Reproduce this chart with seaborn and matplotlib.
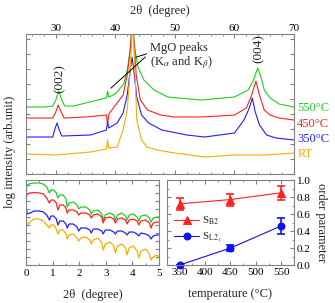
import pandas as pd
import matplotlib.pyplot as plt
import seaborn as sns
from matplotlib.ticker import MultipleLocator, FormatStrFormatter

sns.set_style("ticks")
plt.rcParams['font.family'] = ['Liberation Serif', 'DejaVu Serif']
plt.rcParams['mathtext.fontset'] = 'stix'
plt.rcParams['xtick.direction'] = 'in'
plt.rcParams['ytick.direction'] = 'in'
plt.rcParams['axes.edgecolor'] = '#808080'
plt.rcParams['xtick.color'] = '#808080'
plt.rcParams['ytick.color'] = '#808080'
plt.rcParams['xtick.labelcolor'] = 'black'
plt.rcParams['ytick.labelcolor'] = 'black'

# ---- XRD (high angle), log intensity in arb. units, curves already offset
tt_550 = [25, 28, 29.5, 30.0, 30.5, 31.0, 31.5, 33, 35, 37, 38.5, 38.7, 38.9, 40, 41.4, 42.0, 42.5,
          42.9, 43.3, 43.8, 44.8, 46.5, 48.8, 54.5, 60, 62.3, 63.2, 63.9, 64.5, 65.0, 66, 67.5, 70]
i_550 = [67, 67, 68, 74, 83, 74, 68, 68, 71, 74, 76, 83, 77, 80, 90, 104, 124,
         154, 124, 107, 94, 84, 77, 74, 77, 84, 94, 106, 96, 84, 76, 70, 67]

tt_450 = [25, 29.5, 30.0, 30.4, 30.9, 31.4, 35, 38.5, 38.7, 38.9, 40.3, 41.3, 42.0, 42.5, 42.85,
          43.3, 43.5, 44.2, 45.4, 47.6, 50, 54.5, 60, 62.0, 62.9, 63.6, 64.2, 65, 66, 67.5, 70]
i_450 = [56, 56, 62, 69, 62, 56, 57, 59, 49, 60, 71, 79, 99, 124, 154,
         119, 99, 74, 64, 59, 57, 57, 59, 66, 79, 93, 79, 64, 59, 56, 54]

tt_350 = [25, 29.5, 29.8, 30.2, 30.6, 31.0, 35.8, 38.5, 38.7, 38.9, 40.3, 41.3, 42.0, 42.5, 42.8,
          43.1, 43.6, 44.4, 45.6, 47.8, 52, 55, 60, 61.6, 62.5, 63.0, 63.5, 64.2, 65.4, 67, 70]
i_350 = [37, 37, 44, 51, 44, 38, 39, 44, 52, 46, 51, 61, 79, 104, 117,
         104, 77, 59, 51, 44, 39, 37, 41, 54, 66, 76, 62, 49, 39, 36, 34]

tt_rt = [25, 30, 35.8, 38.5, 38.7, 38.9, 40.3, 41.3, 42.0, 42.5, 42.9, 43.3, 43.6, 44.4, 45.3,
         47, 50, 55, 60, 65, 70]
i_rt = [20, 19, 22, 25, 34, 26, 27, 44, 64, 104, 154, 104, 54, 34, 27,
        24, 21, 17, 19, 19, 21]

samples = ['550°C', '450°C', '350°C', 'RT']
colors = ['#22cc22', '#ff2020', '#2020ff', '#ffaa00']
label_pos = [66, 50, 35, 20]

# ---- XRR (low angle)
tt_low = [0.0, 0.05, 0.15, 0.3, 0.5, 0.65, 0.78, 0.88, 0.94, 1.04, 1.14, 1.2, 1.27, 1.4, 1.5, 1.55,
          1.62, 1.78, 1.92, 1.98, 2.06, 2.25, 2.4, 2.45, 2.53, 2.7, 2.85, 2.9, 2.98, 3.15, 3.3,
          3.36, 3.44, 3.6, 3.74, 3.8, 3.88, 4.03, 4.18, 4.24, 4.32, 4.5, 4.64, 4.7, 4.78, 4.92, 5.0]
r_550 = [76, 80, 81.5, 82, 82, 81, 78, 72, 75, 75, 72, 67, 70, 70, 66, 58,
         62, 63, 60, 56, 58, 58, 55, 51, 54, 55, 51, 45, 50, 52, 50,
         45, 50, 52, 49, 45, 50, 51, 48, 44, 49, 50, 47, 43, 47, 48, 48]
r_450 = [67, 71, 72, 72.5, 72, 71, 67, 62, 65, 65, 62, 55, 60, 60, 57, 52,
         55, 55, 53, 50, 52, 52, 50, 47, 50, 51, 48, 42, 47, 48, 46,
         42, 46, 47, 45, 41, 45, 46, 44, 40, 44, 45, 42, 37, 42, 43, 43]
r_350 = [58, 51, 52, 54, 54, 53, 50, 45, 49, 49, 46, 40, 44, 44, 41, 37,
         41, 41, 38, 34, 37, 37, 35, 32, 36, 36, 34, 31, 35, 35, 33,
         31, 34, 34, 32, 30, 33, 33, 31, 29, 32, 31, 29, 26, 29, 30, 30]
r_rt = [46, 40, 43, 46, 46, 44, 40, 37, 40, 40, 36, 31, 35, 35, 31, 26,
        30, 31, 27, 24, 27, 28, 25, 21, 25, 27, 22, 15, 21, 23, 19,
        12, 19, 21, 17, 10, 17, 19, 14, 7, 14, 16, 11, 5, 8, 10, 8]

# ---- order parameters
temps = [350, 450, 550]
s_b2 = [0.72, 0.77, 0.85]
s_b2_err = [0.07, 0.07, 0.08]
s_l21 = [0.0, 0.20, 0.46]
s_l21_err = [0.0, 0.03, 0.09]

xrd = pd.concat([
    pd.DataFrame({'two_theta': tt_550, 'intensity': i_550, 'sample': '550°C'}),
    pd.DataFrame({'two_theta': tt_450, 'intensity': i_450, 'sample': '450°C'}),
    pd.DataFrame({'two_theta': tt_350, 'intensity': i_350, 'sample': '350°C'}),
    pd.DataFrame({'two_theta': tt_rt, 'intensity': i_rt, 'sample': 'RT'}),
])
xrr = pd.DataFrame({'two_theta': tt_low * 4,
                    'intensity': r_550 + r_450 + r_350 + r_rt,
                    'sample': [s for s in samples for _ in tt_low]})

fig = plt.figure(figsize=(3.35, 3.03), dpi=100)
ax1 = fig.add_axes([0.0776, 0.4257, 0.800, 0.462])
ax2 = fig.add_axes([0.0776, 0.1254, 0.397, 0.2805])
ax3 = fig.add_axes([0.4985, 0.1254, 0.379, 0.2805])

# top panel
sns.lineplot(data=xrd, x='two_theta', y='intensity', hue='sample', hue_order=samples,
             palette=colors, estimator=None, sort=False, legend=False, lw=0.8, ax=ax1)
ax1.set_xlim(25, 70)
ax1.set_ylim(0, 140)
ax1.xaxis.tick_top()
ax1.xaxis.set_label_position('top')
ax1.set_xlabel('2θ  (degree)', fontsize=9, labelpad=7)
ax1.set_ylabel('')
ax1.set_xticks([30, 40, 50, 60, 70])
ax1.xaxis.set_minor_locator(MultipleLocator(2))
ax1.yaxis.set_major_locator(MultipleLocator(15))
ax1.set_yticklabels([])
ax1.tick_params(which='both', top=True, bottom=True, left=True, right=True,
                labelsize=8, pad=1, length=3)
ax1.tick_params(which='minor', length=1.5)
for s, c, y in zip(samples, colors, label_pos):
    ax1.text(1.012, y, s, color=c, fontsize=9, va='center', ha='left',
             transform=ax1.get_yaxis_transform())
ax1.text(30.6, 81, '(002)', rotation=90, fontsize=9.5, ha='center', va='bottom')
ax1.text(64.0, 111, '(004)', rotation=90, fontsize=9.5, ha='center', va='bottom')
ax1.text(45.9, 126, 'MgO peaks', fontsize=9, ha='left', va='center')
ax1.text(45.9, 111, r'(K$_\alpha$ and K$_\beta$)', fontsize=9, ha='left', va='center')
ax1.annotate('', xy=(43.0, 116), xytext=(45.7, 121),
             arrowprops=dict(arrowstyle='-', lw=0.7, color='black'))
ax1.annotate('', xy=(38.9, 84), xytext=(45.4, 119),
             arrowprops=dict(arrowstyle='-', lw=0.7, color='black'))

# bottom left panel
sns.lineplot(data=xrr, x='two_theta', y='intensity', hue='sample', hue_order=samples,
             palette=colors, estimator=None, sort=False, legend=False, lw=0.9, ax=ax2)
ax2.set_xlim(0, 5)
ax2.set_ylim(0, 85)
ax2.set_xticks([0, 1, 2, 3, 4, 5])
ax2.xaxis.set_minor_locator(MultipleLocator(0.5))
ax2.yaxis.set_major_locator(MultipleLocator(8))
ax2.set_yticklabels([])
ax2.set_xlabel('2θ  (degree)', fontsize=9, labelpad=8)
ax2.set_ylabel('')
ax2.tick_params(which='both', top=True, right=True, labelsize=8, pad=3, length=3)
ax2.tick_params(which='minor', length=1.5)

# bottom right panel
sns.lineplot(x=temps, y=s_b2, color='#ff2020', marker='^', markersize=6, lw=0.8,
             markeredgecolor='#ff2020', label=r'S$_{\mathrm{B2}}$', ax=ax3)
sns.lineplot(x=temps, y=s_l21, color='#1010ee', marker='o', markersize=5, lw=0.8,
             markeredgecolor='#1010ee', label=r'S$_{\mathrm{L2_1}}$', ax=ax3, clip_on=False)
ax3.errorbar(temps, s_b2, yerr=s_b2_err, fmt='none', ecolor='#ff2020', capsize=3, lw=1.2,
             capthick=1.2)
ax3.errorbar(temps, s_l21, yerr=s_l21_err, fmt='none', ecolor='#1010ee', capsize=3, lw=1.2,
             capthick=1.2)
ax3.set_xlim(325, 575)
ax3.set_ylim(0, 1.0)
ax3.set_xticks([350, 400, 450, 500, 550])
ax3.xaxis.set_minor_locator(MultipleLocator(25))
ax3.yaxis.set_major_locator(MultipleLocator(0.2))
ax3.yaxis.set_minor_locator(MultipleLocator(0.1))
ax3.yaxis.set_major_formatter(FormatStrFormatter('%.1f'))
ax3.yaxis.tick_right()
ax3.yaxis.set_label_position('right')
ax3.tick_params(which='both', top=True, left=True, right=True, labelsize=8, pad=2, length=3)
ax3.tick_params(which='minor', length=1.5)
ax3.set_xlabel('temperature (°C)', fontsize=9, labelpad=8)
ax3.set_ylabel('order parameter', fontsize=9, rotation=270, labelpad=12)
ax3.legend(loc='center left', bbox_to_anchor=(-0.02, 0.42), frameon=False, fontsize=8,
           handlelength=2.2, handletextpad=0.3, labelspacing=0.3)

fig.text(0.03, 0.50, 'log intensity (arb.unit)', rotation=90, fontsize=9,
         ha='center', va='center')

fig.savefig('out.png', dpi=100)
